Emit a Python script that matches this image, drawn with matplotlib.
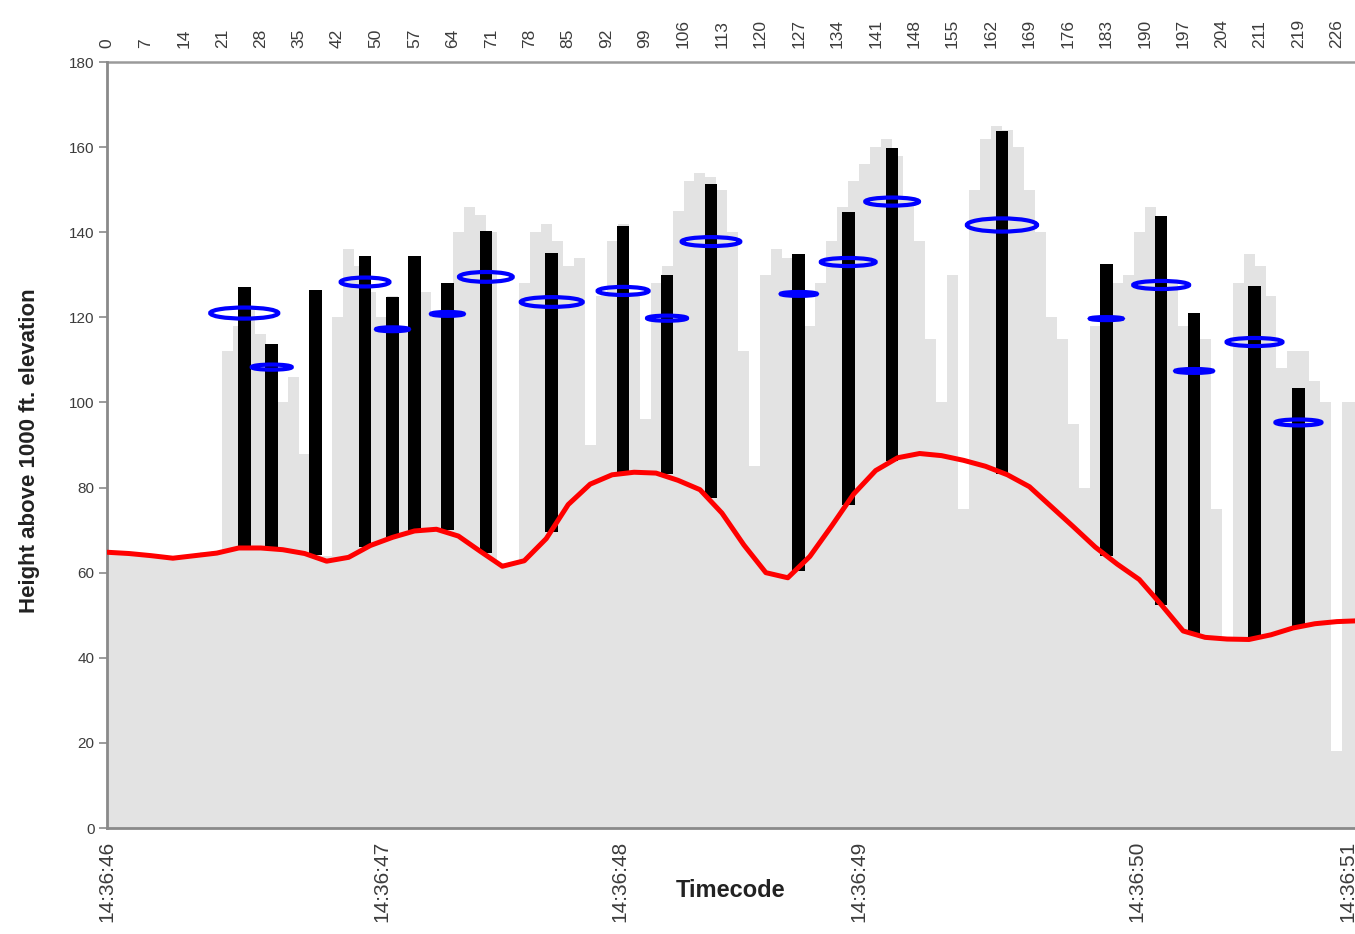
import numpy as np
import matplotlib
matplotlib.use("Agg")
import matplotlib.pyplot as plt
from matplotlib.patches import Ellipse

# ---- DATA -------------------------------------------------------------------

# ground surface (red line), sampled every 4 shots
ground_x = np.arange(0, 229, 4)
ground_h = [64.8, 64.5, 64.0, 63.4, 64.0, 64.6, 65.8, 65.8, 65.4, 64.5,
            62.7, 63.6, 66.4, 68.3, 69.8, 70.2, 68.6, 65.0, 61.5, 62.8,
            68.0, 76.0, 80.8, 83.0, 83.6, 83.4, 81.7, 79.5, 74.0, 66.5,
            60.0, 58.8, 63.8, 71.0, 78.5, 84.0, 87.0, 88.0, 87.5, 86.4,
            85.0, 83.0, 80.2, 75.5, 70.8, 66.0, 62.0, 58.4, 52.5, 46.3,
            44.8, 44.4, 44.3, 45.4, 47.0, 48.0, 48.5, 48.7]

# raw return heights (grey area), every 2 shots
canopy_x = np.arange(0, 229, 2)
canopy_h = [65.2, 65.0, 64.9, 64.6, 64.4, 64.1, 63.9, 64.1, 64.4, 64.8,
            65.1, 112, 118, 122, 116, 112, 100, 106, 88, 122,
            63.8, 120, 136, 132, 126, 120, 125, 118, 132, 126,
            120, 128, 140, 146, 144, 140, 62.3, 62.5, 128, 140,
            142, 138, 132, 134, 90, 125, 138, 142, 126, 96,
            128, 132, 145, 152, 154, 153, 150, 140, 112, 85,
            130, 136, 134, 128, 118, 128, 138, 146, 152, 156,
            160, 162, 158, 148, 138, 115, 100, 130, 75, 150,
            162, 165, 164, 160, 150, 140, 120, 115, 95, 80,
            118, 132, 128, 130, 140, 146, 142, 128, 118, 120,
            115, 75, 45, 128, 135, 132, 125, 108, 112, 112,
            105, 100, 18, 100, 100]

# tree stems: position (shot), base and top height
tree_x = [25, 30, 38, 47, 52, 56, 62, 69, 81, 94, 102, 110, 126, 135, 143,
          163, 182, 192, 198, 209, 217]
tree_base = [65.8, 65.5, 64.2, 66.0, 68.3, 69.8, 70.0, 64.6, 69.5, 83.3, 83.2,
             77.5, 60.5, 76.0, 86.3, 83.3, 64.0, 52.5, 45.5, 44.5, 47.3]
tree_top = [127.2, 113.7, 126.4, 134.4, 124.8, 134.4, 128.1, 140.3, 135.2,
            141.4, 129.9, 151.3, 135.0, 144.8, 159.7, 163.7, 132.5, 143.8,
            121.1, 127.4, 103.5]

# crown centre height and spread (nan = no crown estimate)
crown_h = [121.0, 108.3, np.nan, 128.3, 117.2, np.nan, 120.8, 129.5, 123.6,
           126.2, 119.8, 137.8, 125.5, 133.0, 147.2, 141.7, 119.7, 127.6,
           107.4, 114.2, 95.3]
crown_w = [12.4, 7.3, np.nan, 8.9, 6.0, np.nan, 6.0, 9.8, 11.3, 9.3, 7.3,
           10.7, 6.6, 10.0, 9.8, 12.8, 6.0, 10.2, 6.9, 10.2, 8.4]
crown_d = [2.6, 1.2, np.nan, 2.1, 0.9, np.nan, 0.9, 2.3, 2.3, 1.9, 1.2,
           2.1, 0.9, 1.9, 1.9, 3.1, 0.7, 1.9, 0.9, 1.9, 1.4]

# axes labels
shot_ticks = np.arange(0, 225, 7)
shot_labels = ["0", "7", "14", "21", "28", "35", "42", "50", "57", "64", "71",
               "78", "85", "92", "99", "106", "113", "120", "127", "134",
               "141", "148", "155", "162", "169", "176", "183", "190", "197",
               "204", "211", "219", "226"]
second_pos = [0, 50, 93.5, 137, 187.5, 226]
second_labels = ["14:36:46", "14:36:47", "14:36:48", "14:36:49", "14:36:50",
                 "14:36:51"]

# ---- PLOT -------------------------------------------------------------------
plt.rcParams["font.family"] = ["Liberation Sans", "DejaVu Sans"]
AXIS_GREY = "#8a8a8a"
TEXT_GREY = "#3c3c3c"

fig = plt.figure(figsize=(13.55, 9.34), dpi=100)
ax = fig.add_axes([107 / 1355, 1 - 828 / 934, 1 - 107 / 1355, 766 / 934])

ax.fill_between(canopy_x, 0, canopy_h, step="mid", color="#e3e3e3", lw=0, zorder=1)
ax.bar(tree_x, np.array(tree_top) - np.array(tree_base), bottom=tree_base,
       width=2.3, color="black", zorder=2)
ax.plot(ground_x, ground_h, color="#ff0000", lw=3.6, solid_joinstyle="round",
        solid_capstyle="round", zorder=3)

for x, h, w, d in zip(tree_x, crown_h, crown_w, crown_d):
    if np.isnan(h):
        continue
    ax.add_patch(Ellipse((x, h), w, d, facecolor="none", edgecolor="#0000ff",
                         lw=3.0, zorder=4))

ax.set_xlim(0, 227.3)
ax.set_ylim(0, 180)
ax.set_yticks(range(0, 181, 20))
ax.tick_params(axis="y", direction="out", length=6, width=1.2, color=AXIS_GREY,
               labelsize=11, labelcolor=TEXT_GREY, pad=3)

ax.set_xticks(second_pos, labels=second_labels, rotation=90)
ax.tick_params(axis="x", length=0, labelsize=15, labelcolor=TEXT_GREY, pad=9)

for side in ("left", "bottom"):
    ax.spines[side].set_color(AXIS_GREY)
    ax.spines[side].set_linewidth(2)
ax.spines["right"].set_visible(False)
ax.spines["top"].set_visible(False)

top = ax.secondary_xaxis("top")
top.set_xticks(shot_ticks, labels=shot_labels, rotation=90)
top.tick_params(length=0, labelsize=12.5, labelcolor=TEXT_GREY, pad=10)
top.spines["top"].set_color("#9a9a9a")
top.spines["top"].set_linewidth(1.8)

label_font = ["Liberation Sans Narrow", "Liberation Sans", "DejaVu Sans"]
ax.set_xlabel("Timecode", fontsize=17, fontweight="bold", family=label_font,
              color="#222222", va="center")
ax.xaxis.set_label_coords(0.5, -0.081)
ax.set_ylabel("Height above 1000 ft. elevation", fontsize=16, fontweight="bold",
              family=label_font, color="#222222", va="center")
ax.yaxis.set_label_coords(-0.062, 0.493)

fig.savefig("out.png", dpi=100)
